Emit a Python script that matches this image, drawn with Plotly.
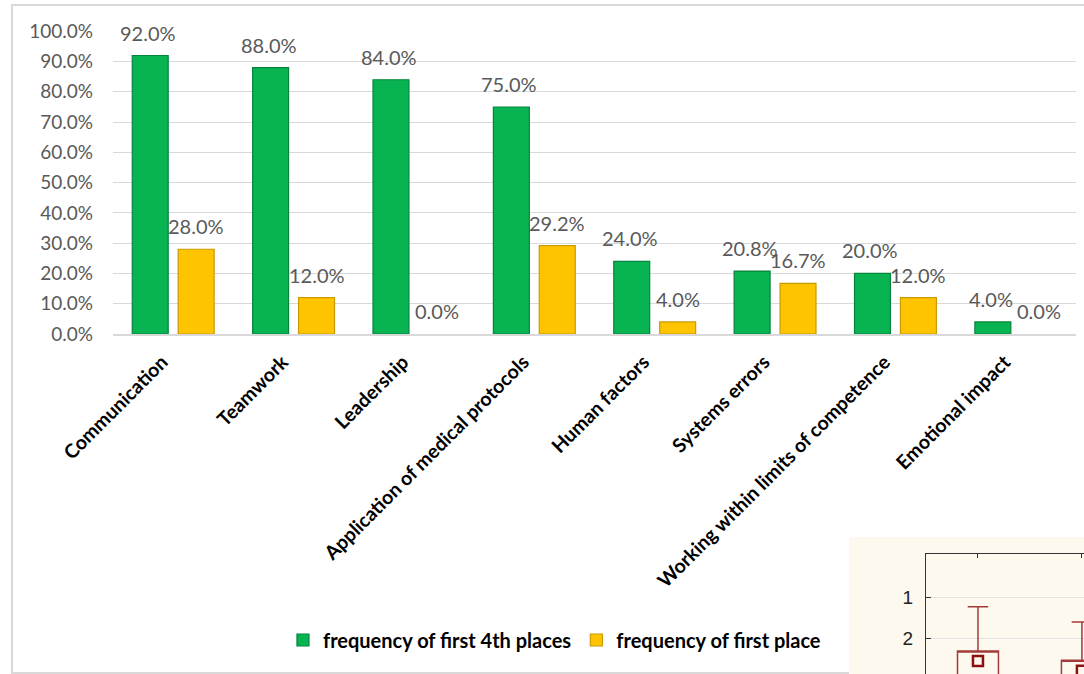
import plotly.graph_objects as go

categories = ["Communication", "Teamwork", "Leadership", "Application of medical protocols",
              "Human factors", "Systems errors", "Working within limits of competence",
              "Emotional impact"]
freq_first4 = [0.92, 0.88, 0.84, 0.75, 0.24, 0.208, 0.20, 0.04]
freq_first = [0.28, 0.12, 0.0, 0.292, 0.04, 0.167, 0.12, 0.0]
y_ticks = [0.0, 0.1, 0.2, 0.3, 0.4, 0.5, 0.6, 0.7, 0.8, 0.9, 1.0]

# fragment of a neighbouring box plot (bottom-right inset)
inset_x = [0, 1]
inset_whisker_top = [1.24, 1.61]
inset_box_top = [2.32, 2.54]
inset_box_bottom = [3.2, 3.2]
inset_whisker_bottom = [3.6, 3.6]
inset_mean = [2.56, 2.8]
inset_ticks = [1, 2, 3]

W, H = 1084, 674
FONT = "Lato"
GREEN, GREEN_D = "#08b352", "#06843c"
YELLOW, YELLOW_D = "#ffc400", "#c99a00"

fig = go.Figure()
fig.add_trace(go.Bar(x=categories, y=freq_first4, name="frequency of first 4th places",
                     marker=dict(color=GREEN,
                                 line=dict(color=GREEN_D, width=[1.2 if v > 0 else 0 for v in freq_first4])),
                     xaxis="x", yaxis="y"))
fig.add_trace(go.Bar(x=categories, y=freq_first, name="frequency of first place",
                     marker=dict(color=YELLOW,
                                 line=dict(color=YELLOW_D, width=[1.2 if v > 0 else 0 for v in freq_first])),
                     xaxis="x", yaxis="y"))

fig.add_trace(go.Box(x=inset_x, lowerfence=inset_whisker_top, q1=inset_box_top,
                     median=inset_box_top, q3=inset_box_bottom, upperfence=inset_whisker_bottom,
                     width=0.394, whiskerwidth=0.5, fillcolor="rgba(0,0,0,0)",
                     line=dict(color="#a33a3a", width=1.5), boxpoints=False,
                     showlegend=False, xaxis="x2", yaxis="y2", hoverinfo="skip"))
fig.add_trace(go.Scatter(x=inset_x, y=inset_mean, mode="markers",
                         marker=dict(symbol="square-open", size=10, color="#8b1010",
                                     line=dict(width=2.5, color="#8b1010")),
                         showlegend=False, xaxis="x2", yaxis="y2", cliponaxis=True,
                         hoverinfo="skip"))

annotations = []
for cat, v in zip(categories, freq_first4):
    annotations.append(dict(x=cat, y=v, xref="x", yref="y", text=f"{v*100:.1f}%",
                            showarrow=False, xshift=-25, yshift=23, yanchor="middle",
                            font=dict(family=FONT, size=20, color="#595959")))
for cat, v in zip(categories, freq_first):
    annotations.append(dict(x=cat, y=v, xref="x", yref="y", text=f"{v*100:.1f}%",
                            showarrow=False, xshift=23, yshift=23, yanchor="middle",
                            font=dict(family=FONT, size=20, color="#595959")))

shapes = [
    dict(type="rect", xref="paper", yref="paper", x0=12 / W, x1=1.05, y0=1 / H, y1=(H - 5) / H,
         line=dict(color="#d9d9d9", width=2), fillcolor="rgba(0,0,0,0)", layer="below"),
    dict(type="rect", xref="paper", yref="paper", x0=849 / W, x1=1.01, y0=-0.01, y1=(H - 537) / H,
         line=dict(width=0), fillcolor="#fdf9ef", layer="below"),
]

fig.update_layout(
    width=W, height=H, autosize=False,
    margin=dict(l=0, r=0, t=0, b=0, pad=0, autoexpand=False),
    paper_bgcolor="white", plot_bgcolor="white",
    barmode="group", bargap=0.237, bargroupgap=0.217,
    font=dict(family=FONT),
    showlegend=True,
    legend=dict(orientation="h", x=0.5115, xanchor="center", y=(H - 640) / H, yanchor="middle",
                font=dict(family=FONT, size=20, color="black", weight="bold"),
                bgcolor="rgba(0,0,0,0)", itemclick=False, itemwidth=30),
    xaxis=dict(domain=[113 / W, 1076 / W], anchor="y", type="category", automargin=False,
               tickangle=-45, tickfont=dict(family=FONT, size=19.5, color="black", weight="bold"),
               ticklabelshift=-11, ticklabelstandoff=7,
               showline=True, linecolor="#d9d9d9", linewidth=2, ticks="", showgrid=False),
    yaxis=dict(domain=[(H - 334) / H, (H - 31) / H], anchor="x", range=[0, 1.001],
               automargin=False,
               tickvals=y_ticks, tickformat=".1%", gridcolor="#d9d9d9", gridwidth=1,
               zeroline=False, showline=False, ticks="", ticklabelstandoff=19,
               tickfont=dict(family=FONT, size=19, color="#595959")),
    xaxis2=dict(domain=[926 / W, 1.0], anchor="y2", side="top", range=[-0.5, 1.02],
                automargin=False,
                tickvals=inset_x, showticklabels=False, ticks="inside", ticklen=4,
                tickcolor="#333", showline=True, linecolor="#333", linewidth=1,
                showgrid=False, zeroline=False),
    yaxis2=dict(domain=[0, (H - 554) / H], anchor="x2", range=[2.878, -0.049],
                automargin=False,
                tickvals=inset_ticks, ticks="inside", ticklen=5, tickcolor="#333",
                showline=True, linecolor="#333", linewidth=1, gridcolor="#e3e3e3",
                zeroline=False, ticklabelstandoff=8,
                tickfont=dict(family="Liberation Sans", size=19, color="#222")),
    annotations=annotations,
    shapes=shapes,
)

fig.write_html("out.html")
